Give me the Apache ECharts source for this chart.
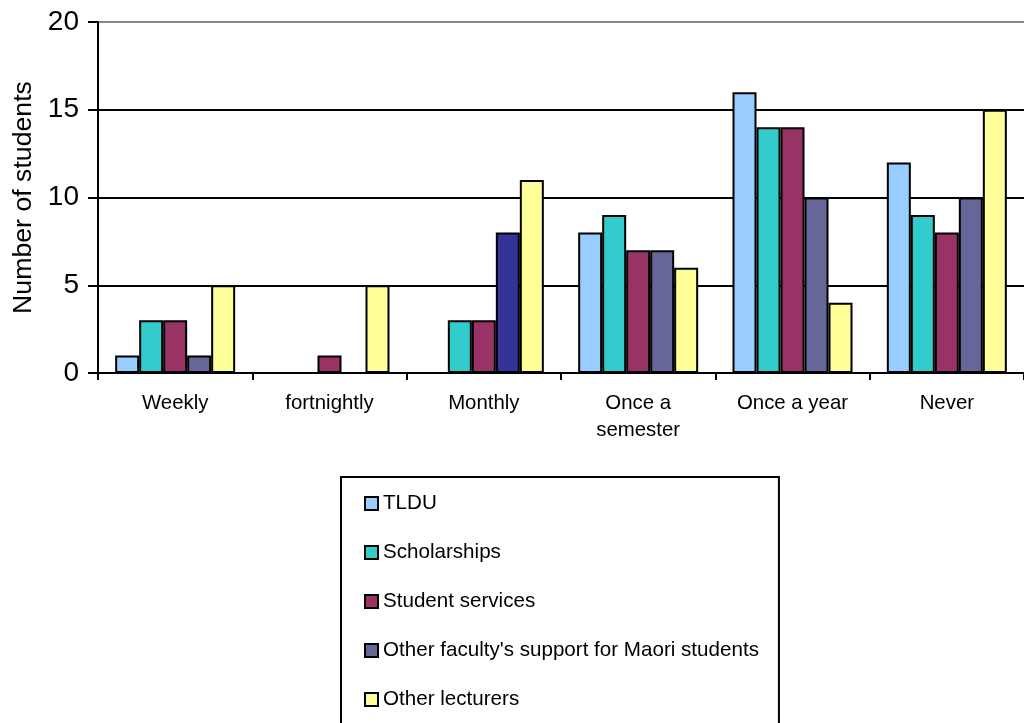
<!DOCTYPE html>
<html>
<head>
<meta charset="utf-8">
<title>Number of students by contact frequency</title>
<script src="https://cdn.jsdelivr.net/npm/echarts@6/dist/echarts.min.js"></script>
<style>
  html, body { margin: 0; padding: 0; background: #fff; }
  #chart { width: 1024px; height: 723px; }
</style>
</head>
<body>
<div id="chart"></div>
<script>
// Frequency categories on the x axis
const categories = ['Weekly', 'fortnightly', 'Monthly', 'Once a\nsemester', 'Once a year', 'Never'];

// Number of students per support source
const tldu            = [1, 0, 0, 8, 16, 12];
const scholarships    = [3, 0, 3, 9, 14, 9];
const studentServices = [3, 1, 3, 7, 14, 8];
const otherFaculty    = [1, 0, 8, 7, 10, 10];
const otherLecturers  = [5, 5, 11, 6, 4, 15];

const seriesNames = [
  'TLDU',
  'Scholarships',
  'Student services',
  "Other faculty's support for Maori students",
  'Other lecturers'
];
const seriesColors = ['#99CCFF', '#33CCCC', '#993366', '#666699', '#FFFF99'];
const seriesData = [tldu, scholarships, studentServices, otherFaculty, otherLecturers];

// Y axis tick range
const yMin = 0, yMax = 20, yStep = 5;

const FONT = '"Liberation Sans", Arial, sans-serif';

const chart = echarts.init(document.getElementById('chart'), null, { renderer: 'canvas' });

const series = seriesData.map((values, i) => ({
  name: seriesNames[i],
  type: 'bar',
  barWidth: 24,
  barGap: '0%',
  itemStyle: { color: seriesColors[i], borderColor: '#000', borderWidth: 2 },
  data: values.map((v, j) => {
    // The Monthly bar of the faculty series is drawn in a darker navy
    if (i === 3 && j === 2) {
      return { value: v, itemStyle: { color: '#333399' } };
    }
    return v;
  })
}));

chart.setOption({
  animation: false,
  backgroundColor: '#fff',
  textStyle: { fontFamily: FONT },
  grid: { left: 98, top: 22, width: 936, height: 351, containLabel: false },
  xAxis: {
    type: 'category',
    data: categories,
    axisLine: { lineStyle: { color: '#000', width: 2 } },
    axisTick: { show: true, length: 7, lineStyle: { color: '#000', width: 2 } },
    axisLabel: { color: '#000', fontSize: 20.4, fontFamily: FONT, margin: 17, lineHeight: 27 },
    splitLine: { show: false }
  },
  yAxis: {
    type: 'value',
    min: yMin,
    max: yMax,
    interval: yStep,
    name: 'Number of students',
    nameLocation: 'middle',
    nameGap: 61,
    nameTextStyle: { color: '#000', fontSize: 26.7, fontFamily: FONT },
    axisLine: { show: true, lineStyle: { color: '#000', width: 2 } },
    axisTick: { show: true, length: 10, lineStyle: { color: '#000', width: 2 } },
    axisLabel: { color: '#000', fontSize: 28, fontFamily: FONT, margin: 19 },
    splitLine: {
      show: true,
      lineStyle: { color: ['#000', '#000', '#000', '#000', '#888'], width: 2 }
    }
  },
  legend: {
    orient: 'vertical',
    left: 341,
    top: 477,
    height: 400,
    icon: 'rect',
    itemWidth: 13,
    itemHeight: 13,
    itemGap: 28,
    padding: [16, 20, 40, 23],
    borderColor: '#000',
    borderWidth: 2,
    backgroundColor: '#fff',
    textStyle: { color: '#000', fontSize: 20.6, fontFamily: FONT },
    data: seriesNames.map((n, i) => ({
      name: n,
      itemStyle: { color: seriesColors[i], borderColor: '#000', borderWidth: 2 }
    }))
  },
  series: series
});
</script>
</body>
</html>
